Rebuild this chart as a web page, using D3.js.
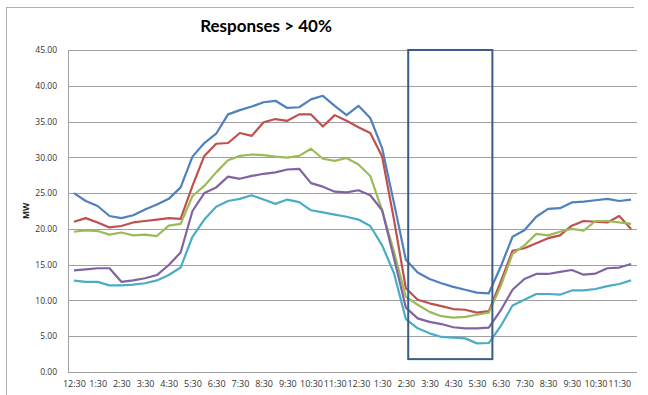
<!DOCTYPE html>
<html>
<head>
<meta charset="utf-8">
<script src="https://cdn.jsdelivr.net/npm/d3@7"></script>
<style>
    body { margin: 0; background: #fff; }
    svg { display: block; }
</style>
</head>
<body>
<div id="chart"></div>
<script>
// half-hour time slots (categories), 24h notation so they stay unique
const times = [
    "00:30", "01:00", "01:30", "02:00", "02:30", "03:00", "03:30", "04:00",
    "04:30", "05:00", "05:30", "06:00", "06:30", "07:00", "07:30", "08:00",
    "08:30", "09:00", "09:30", "10:00", "10:30", "11:00", "11:30", "12:00",
    "12:30", "13:00", "13:30", "14:00", "14:30", "15:00", "15:30", "16:00",
    "16:30", "17:00", "17:30", "18:00", "18:30", "19:00", "19:30", "20:00",
    "20:30", "21:00", "21:30", "22:00", "22:30", "23:00", "23:30", "24:00"
];

// labels shown under every other slot
const tickLabels = [
    "12:30", "1:30", "2:30", "3:30", "4:30", "5:30", "6:30", "7:30", "8:30", "9:30", "10:30", "11:30",
    "12:30", "1:30", "2:30", "3:30", "4:30", "5:30", "6:30", "7:30", "8:30", "9:30", "10:30", "11:30"
];

const yTicks = [0, 5, 10, 15, 20, 25, 30, 35, 40, 45];

// series values (MW)
const seriesBlue = [25.0, 23.9, 23.2, 21.8, 21.5, 21.9, 22.7, 23.4, 24.2, 25.8,
    30.1, 32.0, 33.3, 36.0, 36.6, 37.1, 37.7, 37.9, 36.9, 37.0,
    38.1, 38.6, 37.2, 35.9, 37.2, 35.5, 31.3, 23.6, 15.7, 13.9,
    13.0, 12.4, 11.9, 11.5, 11.1, 11.0, 14.7, 18.9, 19.8, 21.7,
    22.8, 22.9, 23.7, 23.8, 24.0, 24.2, 23.9, 24.1];

const seriesRed = [21.0, 21.5, 20.9, 20.2, 20.4, 20.9, 21.1, 21.3, 21.5, 21.4,
    26.0, 30.2, 31.9, 32.0, 33.4, 33.0, 34.9, 35.35, 35.1, 36.0,
    36.0, 34.3, 35.9, 35.1, 34.2, 33.4, 30.1, 21.3, 11.7, 10.1,
    9.6, 9.2, 8.8, 8.7, 8.3, 8.5, 12.6, 16.95, 17.3, 18.0,
    18.7, 19.1, 20.45, 21.1, 21.0, 20.9, 21.8, 20.0];

const seriesGreen = [19.6, 19.8, 19.7, 19.2, 19.5, 19.1, 19.2, 19.0, 20.45, 20.7,
    24.6, 26.0, 27.9, 29.6, 30.2, 30.4, 30.3, 30.1, 29.95, 30.2,
    31.2, 29.8, 29.5, 29.9, 29.0, 27.4, 22.6, 16.8, 10.5, 9.4,
    8.4, 7.8, 7.6, 7.7, 8.0, 8.3, 12.0, 16.5, 17.7, 19.3,
    19.1, 19.6, 20.0, 19.75, 21.1, 21.1, 20.9, 20.7];

const seriesPurple = [14.2, 14.35, 14.5, 14.5, 12.6, 12.8, 13.1, 13.55, 14.95, 16.7,
    22.5, 25.0, 25.8, 27.3, 27.0, 27.4, 27.7, 27.9, 28.3, 28.4,
    26.4, 25.9, 25.2, 25.1, 25.4, 24.7, 22.6, 15.9, 9.0, 7.5,
    7.0, 6.7, 6.25, 6.1, 6.1, 6.2, 8.6, 11.5, 13.0, 13.7,
    13.7, 14.0, 14.25, 13.6, 13.75, 14.5, 14.6, 15.1];

const seriesCyan = [12.76, 12.6, 12.6, 12.1, 12.1, 12.2, 12.4, 12.8, 13.55, 14.6,
    18.9, 21.3, 23.1, 23.9, 24.2, 24.7, 24.1, 23.5, 24.1, 23.75,
    22.6, 22.3, 22.0, 21.7, 21.3, 20.4, 17.7, 13.8, 7.4, 6.1,
    5.4, 4.9, 4.8, 4.7, 4.0, 4.05, 6.4, 9.3, 10.1, 10.9,
    10.9, 10.8, 11.4, 11.4, 11.6, 12.0, 12.3, 12.8];

// highlighted response window (slot range and MW range)
const highlightSlots = ["14:30", "18:00"];
const highlightMW = [1.8, 45];

const series = [
    { name: "blue", values: seriesBlue, color: "#4F81BD" },
    { name: "red", values: seriesRed, color: "#C0504D" },
    { name: "green", values: seriesGreen, color: "#9BBB59" },
    { name: "purple", values: seriesPurple, color: "#8064A2" },
    { name: "cyan", values: seriesCyan, color: "#4BACC6" }
];

const width = 648, height = 395;
const margin = { top: 50, right: 11, bottom: 23, left: 68 };

const svg = d3.select("#chart").append("svg")
    .attr("width", width)
    .attr("height", height);

// chart frame (top and left edges visible)
svg.append("line")
    .attr("x1", 6).attr("x2", 634).attr("y1", 7.5).attr("y2", 7.5)
    .attr("stroke", "#b0b0b0").attr("stroke-width", 1);
svg.append("line")
    .attr("x1", 6.5).attr("x2", 6.5).attr("y1", 7).attr("y2", height)
    .attr("stroke", "#b0b0b0").attr("stroke-width", 1);

// scales
const x = d3.scalePoint()
    .domain(times)
    .range([margin.left, width - margin.right])
    .padding(0.5);

const y = d3.scaleLinear()
    .domain([0, 45])
    .range([height - margin.bottom, margin.top]);

// gridlines
svg.append("g")
    .selectAll("line")
    .data(yTicks)
    .join("line")
    .attr("x1", margin.left)
    .attr("x2", width - margin.right)
    .attr("y1", d => Math.round(y(d)) + 0.5)
    .attr("y2", d => Math.round(y(d)) + 0.5)
    .attr("stroke", "#a0a0a0")
    .attr("stroke-width", 1);

// y axis line
svg.append("line")
    .attr("x1", margin.left + 0.5).attr("x2", margin.left + 0.5)
    .attr("y1", y(45)).attr("y2", y(0))
    .attr("stroke", "#a0a0a0");

// y axis labels
const yAxis = d3.axisLeft(y)
    .tickValues(yTicks)
    .tickFormat(d3.format(".2f"))
    .tickSize(0)
    .tickPadding(11);

svg.append("g")
    .attr("transform", `translate(${margin.left},0)`)
    .call(yAxis)
    .call(g => g.select(".domain").remove())
    .selectAll("text")
    .attr("font-family", "Open Sans, sans-serif")
    .attr("font-size", "8.5px")
    .attr("fill", "#333");

// x axis labels, every other slot
const xAxis = d3.axisBottom(x)
    .tickValues(times.filter((d, i) => i % 2 === 0))
    .tickFormat(d => tickLabels[times.indexOf(d) / 2])
    .tickSize(0)
    .tickPadding(9);

svg.append("g")
    .attr("transform", `translate(0,${y(0)})`)
    .call(xAxis)
    .call(g => g.select(".domain").remove())
    .selectAll("text")
    .attr("font-family", "Open Sans, sans-serif")
    .attr("font-size", "9px")
    .attr("fill", "#333");

// series lines
const line = d3.line()
    .x((d, i) => x(times[i]))
    .y(d => y(d));

svg.append("g")
    .selectAll("path")
    .data(series)
    .join("path")
    .attr("d", d => line(d.values))
    .attr("fill", "none")
    .attr("stroke", d => d.color)
    .attr("stroke-width", 2.2)
    .attr("stroke-linejoin", "round");

// highlight rectangle
const hx0 = x(highlightSlots[0]) + 0.2 * x.step();
const hx1 = x(highlightSlots[1]) + 0.3 * x.step();
svg.append("rect")
    .attr("x", hx0)
    .attr("y", y(highlightMW[1]))
    .attr("width", hx1 - hx0)
    .attr("height", y(highlightMW[0]) - y(highlightMW[1]))
    .attr("fill", "none")
    .attr("stroke", "#385D8A")
    .attr("stroke-width", 2);

// title
svg.append("text")
    .attr("x", 266)
    .attr("y", 32)
    .attr("text-anchor", "middle")
    .attr("font-family", "Lato, sans-serif")
    .attr("font-weight", "bold")
    .attr("font-size", "17px")
    .attr("fill", "#000")
    .text("Responses > 40%");

// y axis title
svg.append("text")
    .attr("transform", `translate(29,${(y(0) + y(45)) / 2}) rotate(-90)`)
    .attr("text-anchor", "middle")
    .attr("font-family", "Open Sans, sans-serif")
    .attr("font-weight", "bold")
    .attr("font-size", "8.5px")
    .attr("fill", "#222")
    .text("MW");
</script>
</body>
</html>
